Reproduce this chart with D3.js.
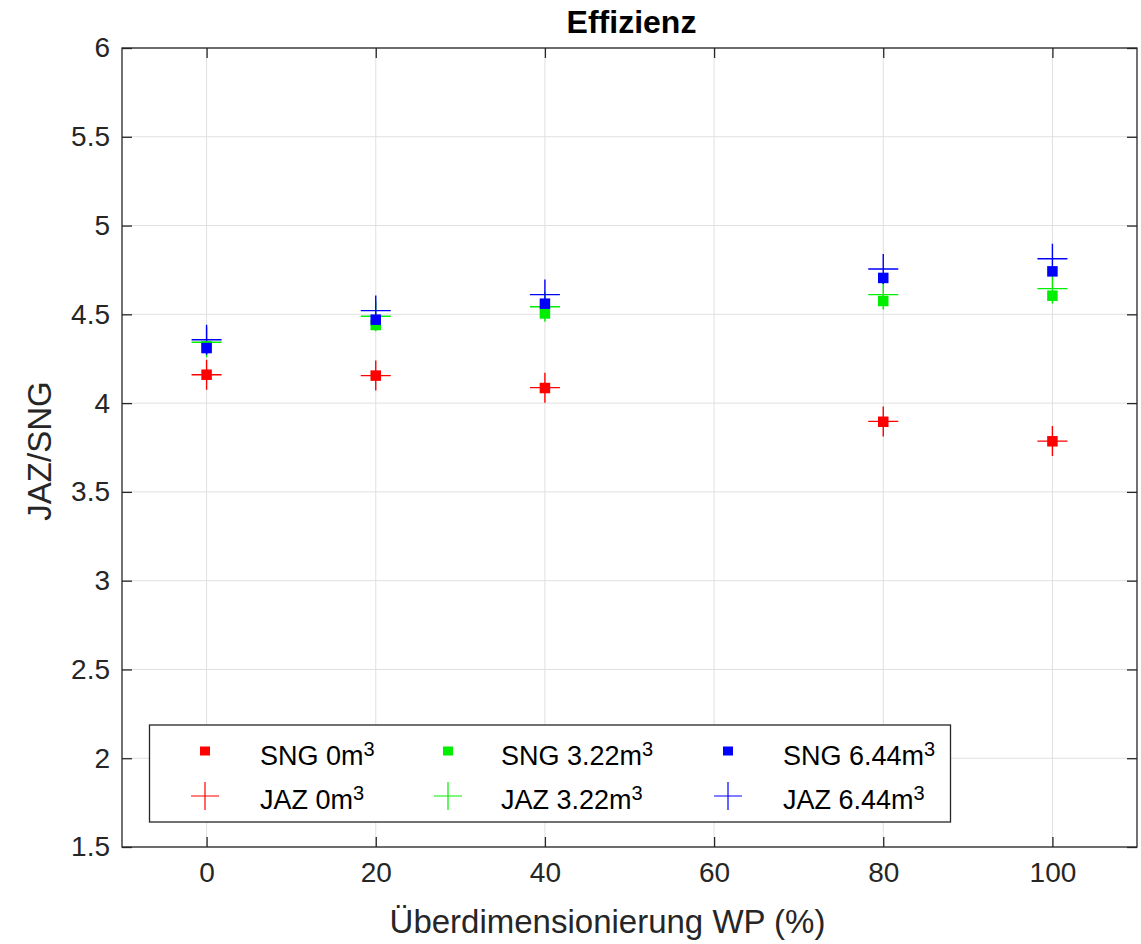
<!DOCTYPE html>
<html>
<head>
<meta charset="utf-8">
<script src="https://cdn.jsdelivr.net/npm/d3@7"></script>
<style>
  body { margin: 0; background: #fff; }
  svg { font-family: "Liberation Sans", Arial, sans-serif; }
</style>
</head>
<body>
<svg id="chart" width="1141" height="944"></svg>
<script>
// data
var xVals = [0, 20, 40, 80, 100];
var sng0 = [4.16, 4.155, 4.085, 3.895, 3.785];
var sng322 = [4.32, 4.44, 4.505, 4.575, 4.605];
var sng644 = [4.31, 4.47, 4.56, 4.705, 4.742];
var jaz0 = [4.16, 4.155, 4.087, 3.897, 3.786];
var jaz322 = [4.343, 4.489, 4.543, 4.611, 4.645];
var jaz644 = [4.357, 4.521, 4.611, 4.755, 4.813];
var xTicks = [0, 20, 40, 60, 80, 100];
var yTicks = [1.5, 2, 2.5, 3, 3.5, 4, 4.5, 5, 5.5, 6];
var seriesNames = ["0m", "3.22m", "6.44m"];
var seriesColors = ["#ff0000", "#00ee00", "#0000ff"];

var svg = d3.select("svg#chart");
var margin = {top: 48, right: 4, bottom: 97, left: 122};
var width = +svg.attr("width") - margin.left - margin.right;
var height = +svg.attr("height") - margin.top - margin.bottom;

var x = d3.scaleLinear().domain([-10, 110]).range([0, width]);
var y = d3.scaleLinear().domain([1.5, 6]).range([height, 0]);

var g = svg.append("g")
  .attr("transform", "translate(" + margin.left + "," + margin.top + ")");

var axisColor = "#262626";
var gridColor = "#e0e0e0";

// grid
g.append("g").selectAll("line").data(xTicks).enter().append("line")
  .attr("x1", function(d) { return x(d); }).attr("x2", function(d) { return x(d); })
  .attr("y1", 0).attr("y2", height)
  .attr("stroke", gridColor).attr("stroke-width", 1);
g.append("g").selectAll("line").data(yTicks).enter().append("line")
  .attr("y1", function(d) { return y(d); }).attr("y2", function(d) { return y(d); })
  .attr("x1", 0).attr("x2", width)
  .attr("stroke", gridColor).attr("stroke-width", 1);

// axes, ticks pointing inward
var tickLen = 10;
function styleAxis(sel) {
  sel.select(".domain").remove();
  sel.selectAll(".tick line").attr("stroke", axisColor).attr("stroke-width", 1.3);
  sel.selectAll(".tick text").attr("fill", axisColor).style("font-size", "28px");
}
var xAxisB = g.append("g").attr("transform", "translate(0," + height + ")")
  .call(d3.axisBottom(x).tickValues(xTicks).tickSizeInner(-tickLen).tickPadding(15).tickFormat(d3.format("d")));
styleAxis(xAxisB);
var xAxisT = g.append("g")
  .call(d3.axisTop(x).tickValues(xTicks).tickSizeInner(-tickLen).tickFormat(""));
styleAxis(xAxisT);
var yAxisL = g.append("g")
  .call(d3.axisLeft(y).tickValues(yTicks).tickSizeInner(-tickLen).tickPadding(12).tickFormat(d3.format("")));
styleAxis(yAxisL);
var yAxisR = g.append("g").attr("transform", "translate(" + width + ",0)")
  .call(d3.axisRight(y).tickValues(yTicks).tickSizeInner(-tickLen).tickFormat(""));
styleAxis(yAxisR);

// box
g.append("rect").attr("width", width).attr("height", height)
  .attr("fill", "none").attr("stroke", axisColor).attr("stroke-width", 1.3);

// plus markers (JAZ) first, squares (SNG) on top
var jazSeries = [jaz0, jaz322, jaz644];
var sngSeries = [sng0, sng322, sng644];
var plusHalf = 15;
var sqSize = 10.5;

jazSeries.forEach(function(vals, i) {
  var pg = g.append("g").attr("stroke", seriesColors[i]).attr("stroke-width", 1.4);
  pg.selectAll("path").data(vals).enter().append("path")
    .attr("d", function(d, j) {
      var cx = x(xVals[j]), cy = y(d);
      return "M" + (cx - plusHalf) + "," + cy + "H" + (cx + plusHalf) +
             "M" + cx + "," + (cy - plusHalf) + "V" + (cy + plusHalf);
    });
});
sngSeries.forEach(function(vals, i) {
  g.append("g").selectAll("rect").data(vals).enter().append("rect")
    .attr("x", function(d, j) { return x(xVals[j]) - sqSize / 2; })
    .attr("y", function(d) { return y(d) - sqSize / 2; })
    .attr("width", sqSize).attr("height", sqSize)
    .attr("fill", seriesColors[i]);
});

// title and labels
svg.append("text").attr("x", margin.left + width / 2 + 2).attr("y", 33)
  .attr("text-anchor", "middle").attr("font-weight", "bold")
  .style("font-size", "32px").attr("fill", "#000").text("Effizienz");

svg.append("text").attr("x", margin.left + width / 2 - 22).attr("y", 933)
  .attr("text-anchor", "middle").style("font-size", "33px").attr("fill", axisColor)
  .text("Überdimensionierung WP (%)");

svg.append("text")
  .attr("transform", "translate(51,451) rotate(-90)")
  .attr("text-anchor", "middle").style("font-size", "33px").attr("fill", axisColor)
  .text("JAZ/SNG");

// legend
var legend = svg.append("g");
legend.append("rect").attr("x", 149.5).attr("y", 725).attr("width", 801).attr("height", 97)
  .attr("fill", "#fff").attr("stroke", axisColor).attr("stroke-width", 1.3);

var colX = [205, 448, 728];
var textX = [260, 501, 783];
var rowY = [751, 796];
var textBase = [765, 809];
seriesNames.forEach(function(name, i) {
  legend.append("rect").attr("x", colX[i] - 5).attr("y", rowY[0] - 4.5)
    .attr("width", 10).attr("height", 9).attr("fill", seriesColors[i]);
  legend.append("path")
    .attr("d", "M" + (colX[i] - 14) + "," + rowY[1] + "H" + (colX[i] + 14) +
               "M" + colX[i] + "," + (rowY[1] - 14) + "V" + (rowY[1] + 14))
    .attr("stroke", seriesColors[i]).attr("stroke-width", 1.2);
  ["SNG ", "JAZ "].forEach(function(pre, r) {
    var t = legend.append("text").attr("x", textX[i]).attr("y", textBase[r])
      .style("font-size", "27px").attr("fill", "#000");
    t.append("tspan").text(pre + name);
    t.append("tspan").attr("dy", -9).style("font-size", "20px").text("3");
  });
});
</script>
</body>
</html>
